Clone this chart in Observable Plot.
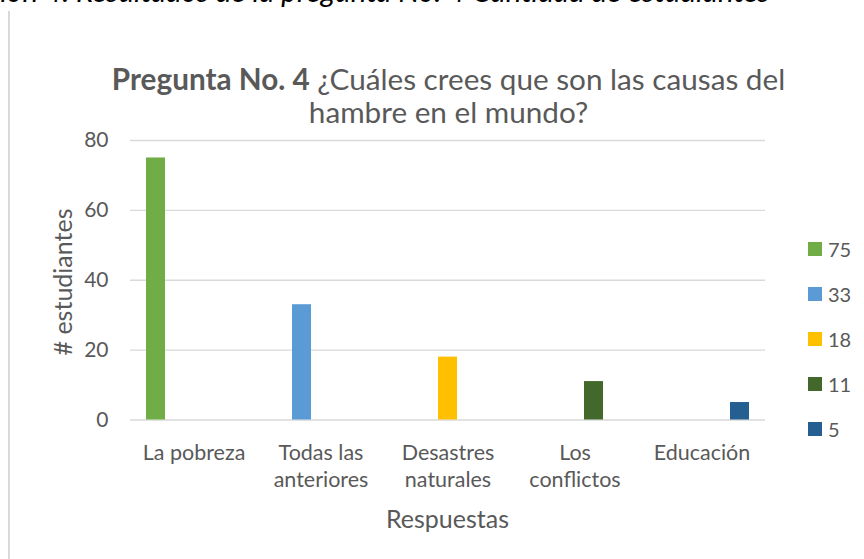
<!DOCTYPE html>
<html>
<head>
<meta charset="utf-8">
<script src="https://cdn.jsdelivr.net/npm/d3@7"></script>
<script src="https://cdn.jsdelivr.net/npm/@observablehq/plot@0.6"></script>
<style>
  html, body { margin: 0; padding: 0; background: #fff; }
  #wrap { position: relative; width: 864px; height: 559px; overflow: hidden; font-family: Lato, "Open Sans", sans-serif; color: #595959; }
  #wrap svg { position: absolute; left: 0; top: 0; }
  .abs { position: absolute; white-space: nowrap; }
</style>
</head>
<body>
<div id="wrap"></div>
<script>
// ---- data ----
const categories = ["La pobreza", "Todas las anteriores", "Desastres naturales", "Los conflictos", "Educación"];
const categoryLabels = ["La pobreza", "Todas las\nanteriores", "Desastres\nnaturales", "Los\nconflictos", "Educación"];
const seriesNames = ["75", "33", "18", "11", "5"];
const values = [75, 33, 18, 11, 5];
const colors = ["#70AD47", "#5B9BD5", "#FFC000", "#43682B", "#255E91"];
const yTicks = [0, 20, 40, 60, 80];

const rows = categories.map((c, i) => ({cat: c, slot: i, series: seriesNames[i], value: values[i]}));
const labelOf = new Map(categories.map((c, i) => [c, categoryLabels[i]]));

const wrap = document.getElementById("wrap");

// clipped caption at very top (cut off in the reference)
const cap = document.createElement("div");
cap.className = "abs";
cap.style.cssText = "left:0;top:0;width:864px;height:10px;overflow:hidden;";
cap.innerHTML = '<div class="abs" style="left:-90px;top:-27px;font-family:Lato;font-style:italic;font-size:29.6px;color:#000;">Ilustración 4. Resultados de la pregunta No. 4 Cantidad de estudiantes</div>';
wrap.appendChild(cap);

// left border of chart area
const border = document.createElement("div");
border.className = "abs";
border.style.cssText = "left:8px;top:11px;width:2px;height:548px;background:#d9d9d9;";
wrap.appendChild(border);

const chart = Plot.plot({
  width: 864,
  height: 559,
  marginLeft: 129,
  marginRight: 98,
  marginTop: 140,
  marginBottom: 139.5,
  style: {background: "transparent", color: "#595959", fontFamily: "Lato, sans-serif"},
  fx: {domain: categories, padding: 0, label: null},
  x: {domain: d3.range(5), paddingInner: 0, paddingOuter: 0.75, axis: null},
  y: {domain: [0, 80], label: null},
  color: {domain: seriesNames, range: colors},
  marks: [
    Plot.gridY(yTicks, {stroke: "#d9d9d9", strokeOpacity: 1, strokeWidth: 1.3}),
    Plot.barY(rows, {fx: "cat", x: "slot", y: "value", fill: "series"}),
    Plot.axisY({ticks: yTicks, tickSize: 0, tickPadding: 22, label: null, fontSize: 21, fill: "#595959"}),
    Plot.axisFx({anchor: "bottom", tickSize: 0, tickPadding: 21, label: null, fontSize: 21.5, lineHeight: 1.25, fill: "#595959",
                 tickFormat: d => labelOf.get(d)})
  ]
});
wrap.appendChild(chart);

// title
const title = document.createElement("div");
title.className = "abs";
title.style.cssText = "left:0;width:897px;top:62px;text-align:center;font-size:29.7px;line-height:33px;color:#595959;white-space:normal;";
title.innerHTML = '<b>Pregunta No. 4</b> ¿Cuáles crees que son las causas del<br>hambre en el mundo?';
wrap.appendChild(title);

// axis titles
const xl = document.createElement("div");
xl.className = "abs";
xl.style.cssText = "left:0;width:895px;top:503px;text-align:center;font-size:25px;line-height:30px;color:#595959;";
xl.textContent = "Respuestas";
wrap.appendChild(xl);

const yl = document.createElement("div");
yl.className = "abs";
yl.style.cssText = "left:62px;top:282px;font-size:25px;line-height:30px;color:#595959;transform:translate(-50%,-50%) rotate(-90deg);";
yl.textContent = "# estudiantes";
wrap.appendChild(yl);

// legend
seriesNames.forEach((s, i) => {
  const y = 249 + i * 45;
  const sw = document.createElement("div");
  sw.className = "abs";
  sw.style.cssText = `left:808px;top:${y - 7}px;width:14px;height:14px;background:${colors[i]};`;
  wrap.appendChild(sw);
  const t = document.createElement("div");
  t.className = "abs";
  t.style.cssText = `left:828px;top:${y - 12}px;font-size:20px;line-height:24px;color:#595959;`;
  t.textContent = s;
  wrap.appendChild(t);
});
</script>
</body>
</html>
